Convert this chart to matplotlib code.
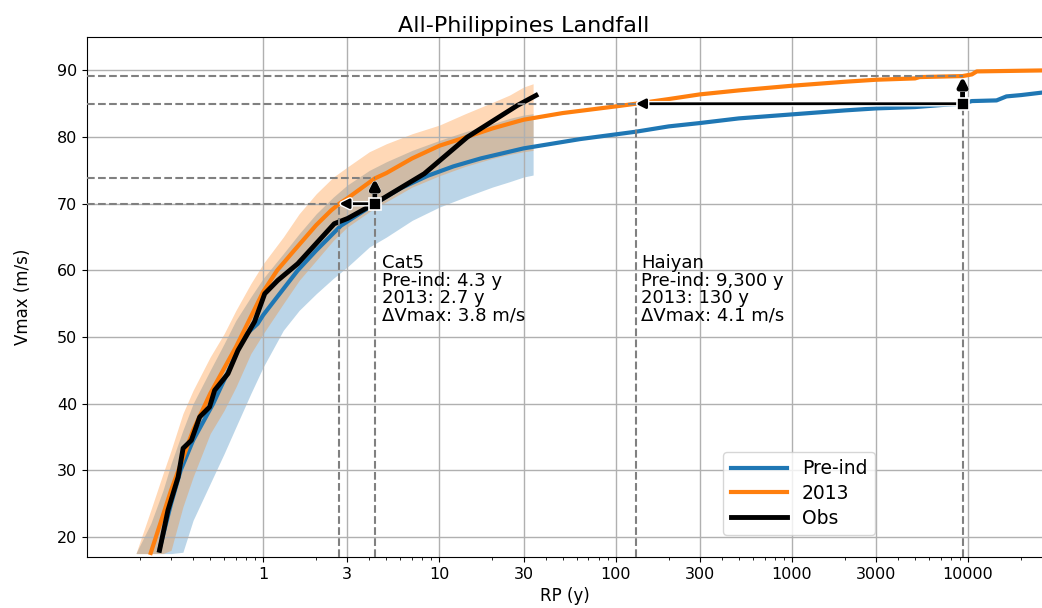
import numpy as np
import matplotlib
matplotlib.use('Agg')
import matplotlib.pyplot as plt
from matplotlib import patheffects as pe
from matplotlib.ticker import FixedLocator, LogLocator, NullFormatter

# return period curves (RP in years, Vmax in m/s)
rp_pre = [0.257, 0.3, 0.34, 0.4, 0.52, 0.65, 0.77, 0.93, 1.0, 1.57, 2.0, 2.76, 4.3, 6, 8.6, 12,
          17.2, 30, 63, 100, 130, 200, 300, 500, 1000, 2000, 3000, 5000, 7000, 9300, 10500,
          14500, 16500, 20000, 26800]
v_pre = [18, 25, 30, 34.5, 40, 45.5, 50, 52, 53.3, 60, 63, 66.7, 70, 72.3, 74.2, 75.6,
         76.8, 78.3, 79.7, 80.4, 80.8, 81.6, 82.1, 82.8, 83.4, 84.0, 84.3, 84.5, 84.8, 85.0, 85.4,
         85.5, 86.1, 86.3, 86.7]

rp_2013 = [0.23, 0.3, 0.4, 0.5, 0.7, 0.85, 1.0, 1.2, 1.5, 2.0, 2.43, 2.7, 3, 4.3, 5, 7, 10, 15,
           20, 30, 50, 100, 130, 200, 300, 500, 1000, 2000, 3000, 5000, 5300, 9300, 10500,
           11200, 15000, 26800]
v_2013 = [17.6, 27, 36, 41.5, 48.5, 53, 56.8, 60, 63, 66.8, 69, 70, 70.8, 73.8, 74.6, 76.8, 78.7, 80.2,
          81.3, 82.6, 83.6, 84.6, 85.0, 85.7, 86.4, 87.0, 87.7, 88.3, 88.6, 88.8, 89.0, 89.15, 89.4,
          89.85, 89.9, 90.0]

rp_obs = [0.258, 0.288, 0.329, 0.351, 0.391, 0.436, 0.496, 0.53, 0.631, 0.719, 0.893, 1.02,
          1.21, 1.57, 2.53, 3.02, 4.27, 8.2, 14.4, 27.7, 35.3]
v_obs = [18.0, 24.0, 29.0, 33.3, 34.5, 38.0, 39.5, 42.0, 44.5, 48.0, 52.3, 56.5,
         58.5, 61.0, 67.0, 67.8, 70.0, 74.5, 80.0, 84.75, 86.25]

# uncertainty bands
band_rp = [0.19, 0.23, 0.27, 0.3, 0.35, 0.4, 0.5, 0.6, 0.7, 0.85, 1, 1.3, 1.6, 2, 2.5, 3, 4, 5,
           7, 10, 14, 20, 25, 30, 34]
up_2013 = [17.6, 24, 29.5, 33, 38.5, 42, 47, 50.5, 54, 58, 61, 65, 68.5, 71.5, 74, 75.5, 77.8, 79,
           80.5, 81.8, 83.5, 85.2, 86.3, 87.5, 88]
lo_2013 = [17.5, 17.5, 17.5, 18, 24.5, 29, 35.5, 39, 42.5, 47.5, 50.5, 55, 58.5, 61.5, 64.5, 66.5,
           68.8, 70.3, 72.5, 74.2, 75.6, 76.8, 77.4, 77.8, 78]
up_pre = [17.6, 22, 27, 31, 36, 40, 45, 49, 52.5, 56, 58.8, 62.5, 65.5, 68.5, 71, 72.8, 75, 76.3,
          78, 79.5, 80.8, 82, 82.8, 83.3, 83.5]
lo_pre = [17.5, 17.5, 17.5, 17.5, 17.7, 22.5, 28, 32.5, 36.5, 41.5, 45.5, 51, 54, 56.5, 58.8, 60.5,
          63.5, 65, 67.5, 69.5, 71, 72.5, 73.3, 74, 74.3]

# events: (name, rp pre-ind, rp 2013, vmax pre-ind, vmax 2013)
cat5 = ('Cat5', 4.3, 2.7, 70.0, 73.8)
haiyan = ('Haiyan', 9300, 130, 85.0, 89.1)
cat5_text = 'Cat5\nPre-ind: 4.3 y\n2013: 2.7 y\nΔVmax: 3.8 m/s'
haiyan_text = 'Haiyan\nPre-ind: 9,300 y\n2013: 130 y\nΔVmax: 4.1 m/s'

xticks = [1, 3, 10, 30, 100, 300, 1000, 3000, 10000]
xmin, xmax = 0.1, 26800
ymin, ymax = 17, 95

fig = plt.figure(figsize=(10.42, 6.08), dpi=100)
ax = fig.add_axes([0.0835, 0.084, 0.918, 0.855])

ax.fill_between(band_rp, lo_pre, up_pre, color='C0', alpha=0.3, lw=0)
ax.fill_between(band_rp, lo_2013, up_2013, color='C1', alpha=0.3, lw=0)
ax.plot(rp_pre, v_pre, color='C0', lw=3, label='Pre-ind')
ax.plot(rp_2013, v_2013, color='C1', lw=3, label='2013')
ax.plot(rp_obs, v_obs, color='k', lw=3.5, label='Obs')

white = [pe.withStroke(linewidth=4, foreground='white')]
for name, rp0, rp1, v0, v1 in [cat5, haiyan]:
    dash = dict(color='gray', ls='--', lw=1.5, zorder=3)
    ax.plot([xmin, rp1], [v0, v0], **dash)
    ax.plot([xmin, rp0], [v1, v1], **dash)
    ax.plot([rp1, rp1], [ymin, v0], **dash)
    ax.plot([rp0, rp0], [ymin, v0], **dash)
    ax.annotate('', xy=(rp1, v0), xytext=(rp0, v0), zorder=4,
                arrowprops=dict(arrowstyle='-|>', color='k', lw=2, mutation_scale=14,
                                shrinkA=0, shrinkB=0, path_effects=white))
    ax.annotate('', xy=(rp0, v1), xytext=(rp0, v0), zorder=4,
                arrowprops=dict(arrowstyle='-|>', color='k', lw=3.5, mutation_scale=13,
                                shrinkA=0, shrinkB=0, path_effects=white))
    ax.plot(rp0, v0, 's', color='k', ms=8, mec='white', mew=1.2, zorder=5)

ax.text(4.75, 62.4, cat5_text, fontsize=13, va='top', ha='left', linespacing=0.95)
ax.text(140, 62.4, haiyan_text, fontsize=13, va='top', ha='left', linespacing=0.95)

ax.set_xscale('log')
ax.set_xlim(xmin, xmax)
ax.set_ylim(ymin, ymax)
ax.xaxis.set_major_locator(FixedLocator(xticks))
ax.set_xticklabels([str(t) for t in xticks])
ax.xaxis.set_minor_locator(LogLocator(base=10, subs=np.arange(2, 10)))
ax.xaxis.set_minor_formatter(NullFormatter())
ax.set_yticks(range(20, 91, 10))
ax.grid(True, which='major', color='#b0b0b0', lw=1)
ax.tick_params(labelsize=11.5)

ax.set_xlabel('RP (y)', fontsize=12)
ax.set_ylabel('Vmax (m/s)', fontsize=12)
ax.yaxis.set_label_coords(-0.057, 0.5)
ax.set_title('All-Philippines Landfall', fontsize=16, x=0.457, pad=4)
ax.legend(loc='lower left', bbox_to_anchor=(0.665, 0.042), borderaxespad=0, fontsize=13.5,
          handlelength=3.0, labelspacing=0.3)

fig.savefig('out.png', dpi=100)
